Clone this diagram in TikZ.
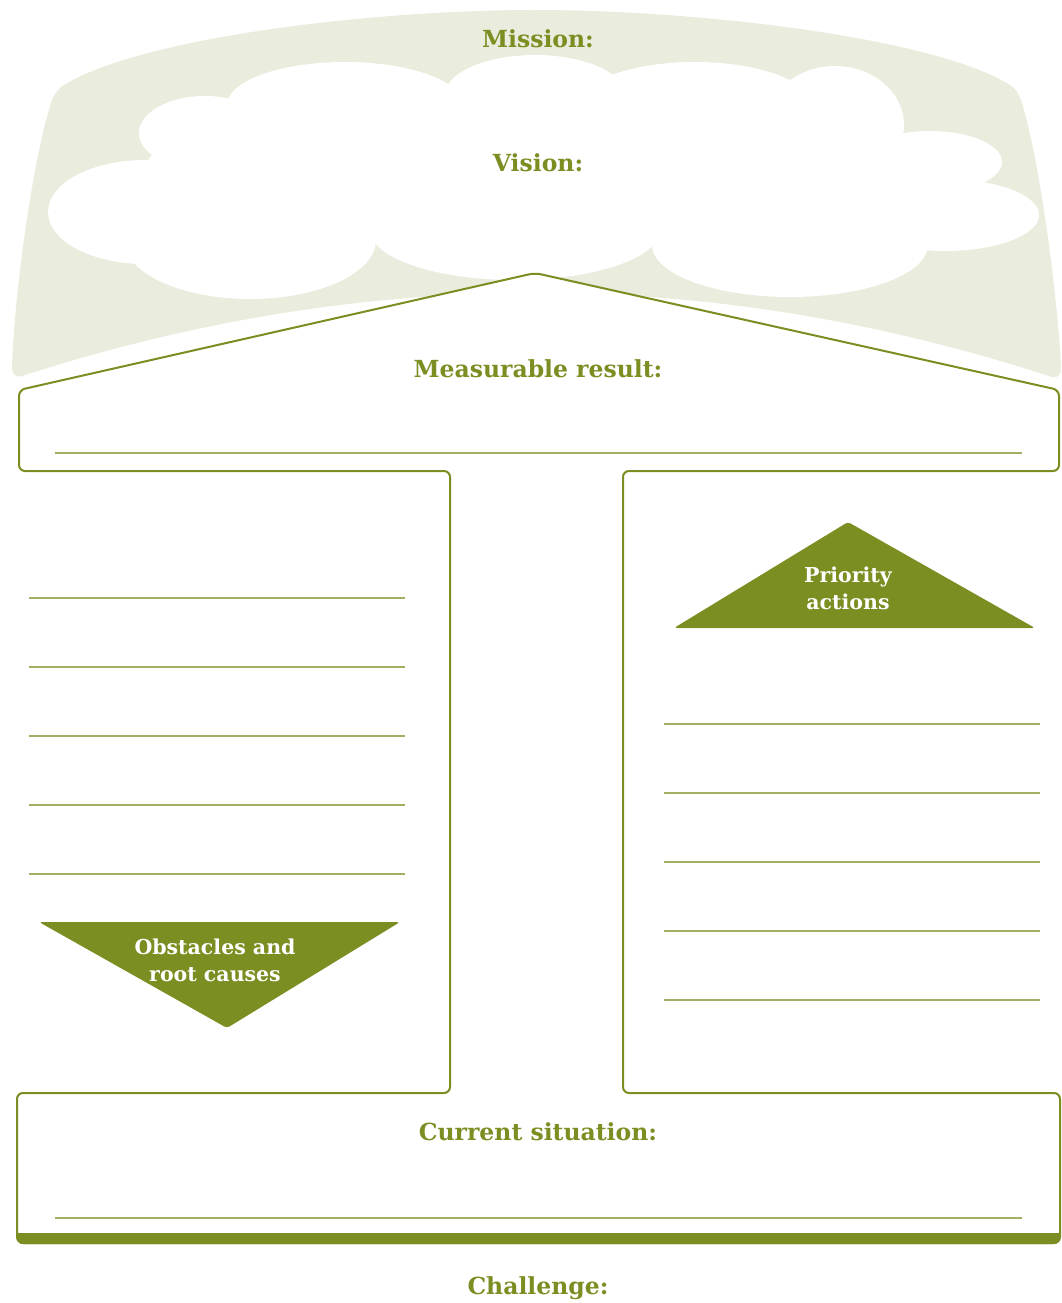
\documentclass[tikz,border=0pt]{standalone}
\usepackage{fontspec}
\usepackage{tikz}
\usetikzlibrary{positioning}
\newfontfamily\slab{DejaVu Serif}
\definecolor{leaf}{RGB}{122,142,34}
\definecolor{sky}{RGB}{234,236,221}
\tikzstyle{heading}=[text=leaf,inner sep=0pt,anchor=base,font=\slab\bfseries\fontsize{23.5}{28}\selectfont]
\tikzstyle{banner}=[text=white,inner sep=0pt,align=center,font=\slab\bfseries\fontsize{20.5}{27}\selectfont]
\tikzstyle{arrowhead}=[fill=leaf,rounded corners=3pt]
\tikzstyle{frame}=[draw=leaf,line width=2pt,fill=white,rounded corners=6pt]
\tikzstyle{writeline}=[draw=leaf!70,line width=1.1pt]
\tikzstyle{puff}=[fill=white]

\begin{document}
\begin{tikzpicture}[x=1pt,y=-1pt]
\useasboundingbox (0,0) rectangle (1061,1303);
%ciel
\fill[sky] (535,10) .. controls (700,10) and (935,38) .. (1010,85)
  .. controls (1016,89) and (1018,93) .. (1021,100)
  .. controls (1040,160) and (1058,300) .. (1061,368)
  .. controls (1061,375) and (1058,378) .. (1052,377)
  .. controls (709,265) and (366,265) .. (22,376)
  .. controls (15,378) and (12,374) .. (12,366)
  .. controls (14,300) and (32,160) .. (52,100)
  .. controls (55,93) and (58,89) .. (64,85)
  .. controls (140,38) and (370,10) .. (535,10) -- cycle;
%nuage
\fill[puff] (545,170) ellipse [x radius=400pt,y radius=80pt];
\fill[puff] (145,212) ellipse [x radius=97pt,y radius=52pt];
\fill[puff] (205,133) ellipse [x radius=66pt,y radius=37pt];
\fill[puff] (345,105) ellipse [x radius=118pt,y radius=43pt];
\fill[puff] (535,95) ellipse [x radius=90pt,y radius=40pt];
\fill[puff] (695,104) ellipse [x radius=115pt,y radius=42pt];
\fill[puff] (835,125) ellipse [x radius=69pt,y radius=59pt];
\fill[puff] (930,162) ellipse [x radius=72pt,y radius=31pt];
\fill[puff] (945,215) ellipse [x radius=94pt,y radius=36pt];
\fill[puff] (790,245) ellipse [x radius=138pt,y radius=52pt];
\fill[puff] (515,230) ellipse [x radius=145pt,y radius=50pt];
\fill[puff] (250,240) ellipse [x radius=126pt,y radius=59pt];
%maison
\draw[frame] (535,273) -- (1059,390) -- (1059,471) -- (623,471) -- (623,1093)
  -- (1060,1093) -- (1060,1243) -- (17,1243) -- (17,1093) -- (450,1093)
  -- (450,471) -- (19,471) -- (19,390) -- cycle;
\begin{scope}
\clip[rounded corners=6pt] (17,1093) rectangle (1060,1244);
\fill[leaf] (17,1233) rectangle (1060,1245);
\end{scope}
%lignes
\draw[writeline] (55,453) -- (1022,453);
\draw[writeline] (29,598) -- (405,598);
\draw[writeline] (29,667) -- (405,667);
\draw[writeline] (29,736) -- (405,736);
\draw[writeline] (29,805) -- (405,805);
\draw[writeline] (29,874) -- (405,874);
\draw[writeline] (664,724) -- (1040,724);
\draw[writeline] (664,793) -- (1040,793);
\draw[writeline] (664,862) -- (1040,862);
\draw[writeline] (664,931) -- (1040,931);
\draw[writeline] (664,1000) -- (1040,1000);
\draw[writeline] (55,1218) -- (1022,1218);
%fleches
\fill[arrowhead] (674,628) -- (848,522) -- (1035,628) -- cycle;
\fill[arrowhead] (39,922) -- (400,922) -- (227,1028) -- cycle;
\node[banner] (priority) at (848,588) {Priority\\actions};
\node[banner] (obstacles) at (215,960) {Obstacles and\\root causes};
%titres
\node[heading] (mission) at (538,48) {Mission:};
\node[heading] (vision) at (538,171) {Vision:};
\node[heading] (result) at (538,377) {Measurable result:};
\node[heading] (current) at (538,1140) {Current situation:};
\node[heading] (challenge) at (538,1294) {Challenge:};
\end{tikzpicture}
\end{document}
